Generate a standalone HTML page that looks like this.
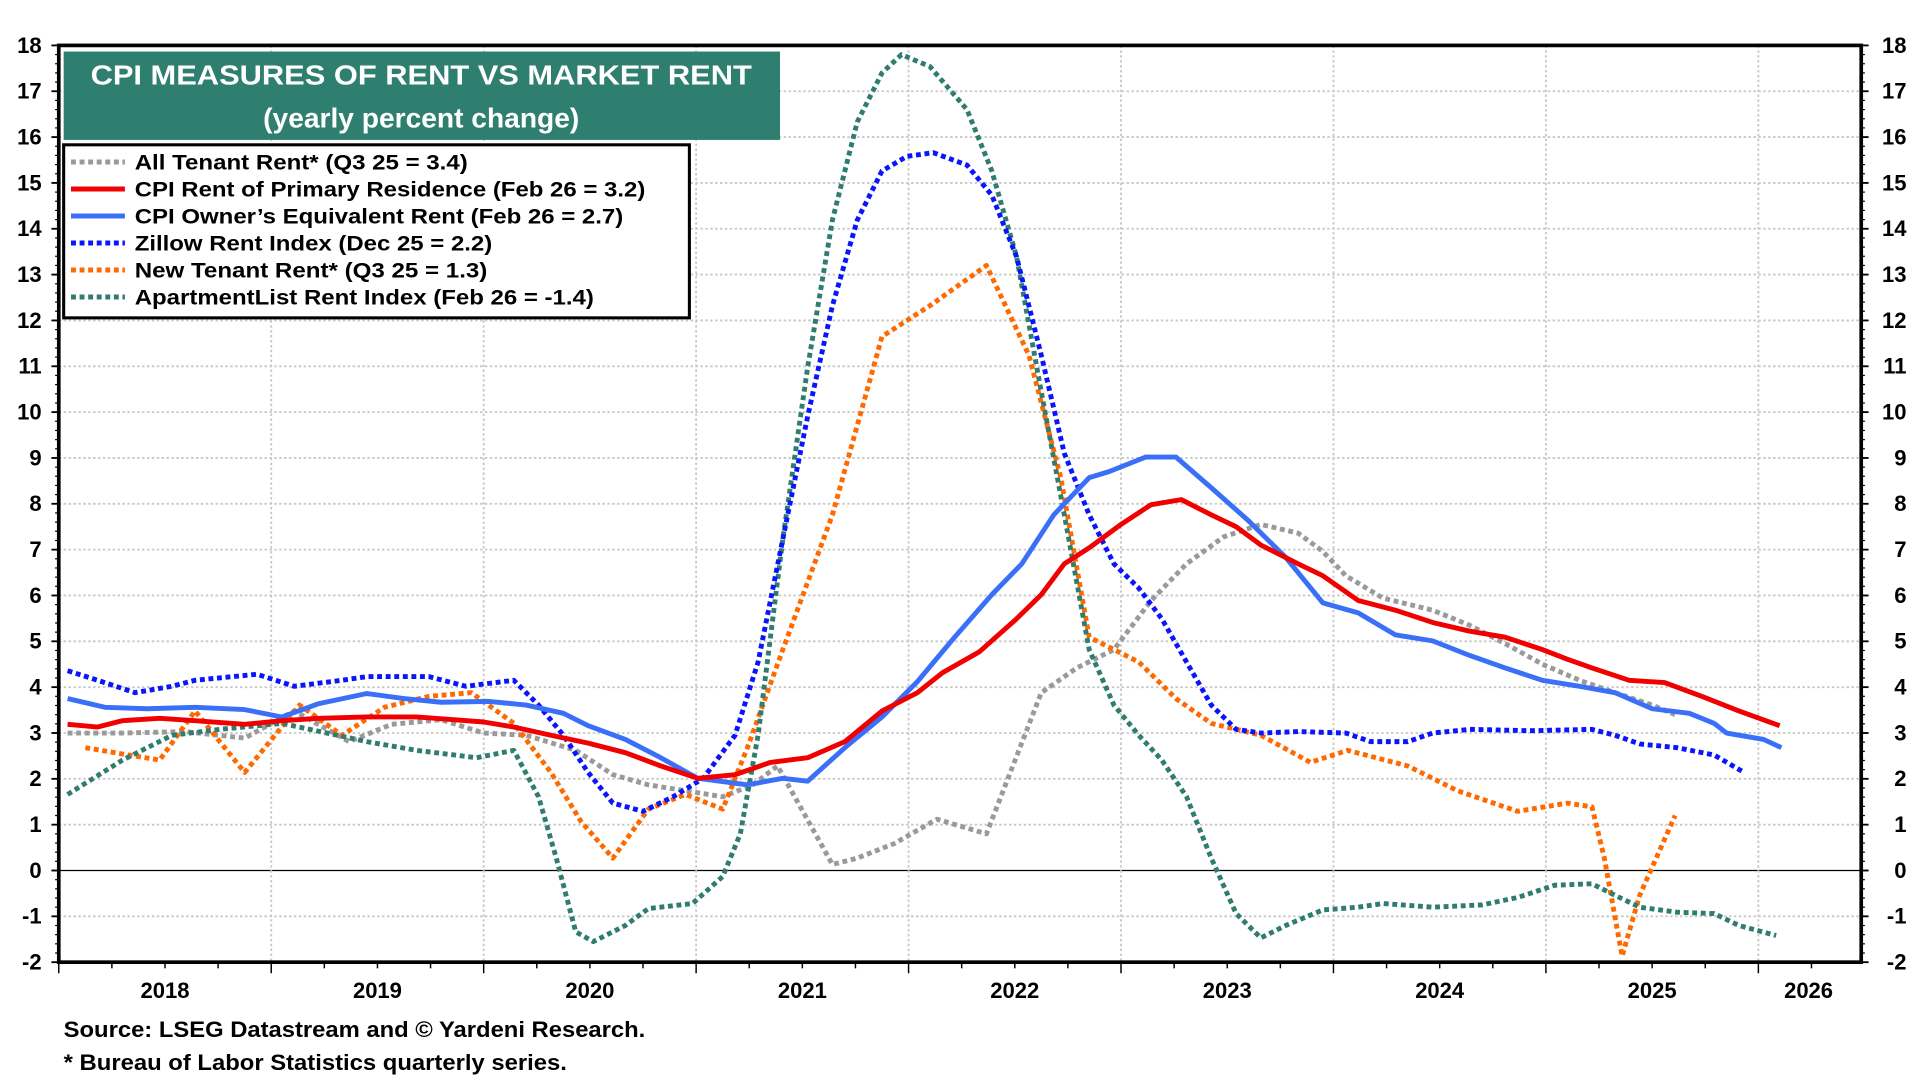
<!DOCTYPE html>
<html><head><meta charset="utf-8"><style>
html,body{margin:0;padding:0;background:#fff;}
svg{display:block;font-family:"Liberation Sans",Arial,sans-serif;font-weight:bold;}
</style></head><body>
<svg id="chart" width="1920" height="1080" viewBox="0 0 1568 880" preserveAspectRatio="none" xmlns="http://www.w3.org/2000/svg">
<g id="grid"></g>
<g id="axes"></g>
<g id="series"></g>
<rect x="48" y="37" width="1472" height="747" fill="none" stroke="#000" stroke-width="3"/>
<g>
<rect x="52" y="42" width="585" height="72" fill="#2f7f71"/>
<text x="344" y="69" text-anchor="middle" font-size="23" fill="#fff" textLength="540" lengthAdjust="spacingAndGlyphs">CPI MEASURES OF RENT VS MARKET RENT</text>
<text x="344" y="104" text-anchor="middle" font-size="23" fill="#fff">(yearly percent change)</text>
</g>
<g id="legend">
<rect x="52" y="118" width="511" height="141" fill="#fff" stroke="#000" stroke-width="2.5"/>
</g>
<text x="52" y="845" font-size="18" textLength="475" lengthAdjust="spacingAndGlyphs">Source: LSEG Datastream and © Yardeni Research.</text>
<text x="52" y="872" font-size="18" textLength="411" lengthAdjust="spacingAndGlyphs">* Bureau of Labor Statistics quarterly series.</text>
</svg>
<script>
// months since Jan 2018, yearly % change
const rentMonths=[0.5,2.2,3.6,5.7,7.7,10.5,12.6,14.7,17.4,20.2,22.3,24,25.7,27.8,29.9,32,34,36.1,38.2,40.2,42.3,44.4,46.5,48.5,49.9,52,54.1,55.5,56.8,58.2,60,61.7,63.4,65.1,66.5,67.9,70,71.4,73.4,75.5,77.6,79.7,81.7,83.8,85.2,86.6,88.7,90.7,92.8,94.9,97.2];
const rentValues=[3.19,3.13,3.27,3.32,3.27,3.19,3.27,3.32,3.35,3.35,3.29,3.24,3.13,2.95,2.78,2.57,2.28,2.01,2.09,2.36,2.46,2.81,3.48,3.88,4.31,4.77,5.49,6.02,6.69,7.04,7.55,7.98,8.09,7.76,7.5,7.1,6.69,6.43,5.89,5.68,5.41,5.22,5.09,4.82,4.61,4.42,4.15,4.1,3.8,3.48,3.16];
const oerMonths=[0.5,2.6,5,7.7,10.5,12.6,14.7,17.4,19.5,21.6,24.3,26.4,28.5,29.9,32,34,36.1,38.9,40.9,42.3,44.4,46.5,48.5,50.6,52.7,54.4,56.2,58.2,59.3,61.4,63.1,65.1,67.2,69.3,71.4,73.4,75.5,77.6,79.7,81.7,83.8,85.9,87.9,90,92.1,93.5,94.2,96.3,97.3];
const oerValues=[3.75,3.56,3.53,3.56,3.51,3.35,3.64,3.86,3.75,3.67,3.69,3.61,3.43,3.16,2.86,2.46,2.01,1.87,2.01,1.95,2.68,3.35,4.12,5.09,6.02,6.69,7.76,8.57,8.7,9.02,9.02,8.35,7.63,6.83,5.84,5.62,5.14,5.01,4.69,4.42,4.15,4.02,3.88,3.53,3.43,3.21,3.0,2.86,2.68];
const zillowMonths=[0.5,2.2,4.3,6.4,7.7,11.2,13.3,16,17.4,20.9,23,25.7,27.1,28.5,29.9,31.3,33,34.7,36.4,38.2,39.5,40.9,42.3,43.7,45.1,46.5,47.9,49.4,51.3,52.7,54.1,55.5,56.8,58.2,59.6,61,62.3,63.7,65.1,66.5,67.9,70,72.7,74.1,76.2,77.6,79.7,83.1,86.6,87.9,89.3,91.4,93.5,95.2];
const zillowValues=[4.36,4.15,3.88,4.02,4.15,4.28,4.02,4.15,4.23,4.23,4.02,4.15,3.61,2.95,2.14,1.47,1.29,1.61,2.01,2.95,4.55,7.23,9.91,12.32,14.19,15.26,15.58,15.66,15.39,14.73,13.39,11.24,9.1,7.76,6.69,6.16,5.49,4.55,3.61,3.08,3.0,3.03,3.0,2.81,2.81,3.0,3.08,3.05,3.08,2.95,2.76,2.68,2.52,2.14];
const aptMonths=[0.5,3.6,6.4,9.1,12.6,17.4,20.2,23.6,25.7,27.1,28.1,29.2,30.2,32,33.3,35.8,37.5,38.5,39.5,40.9,42.3,43.7,45.1,46.5,47.6,49.2,51.3,52.7,54.1,55.5,56.8,58.2,59.6,61,62.3,63.7,65.1,66.5,67.9,69.3,71.4,73.4,74.8,77.6,80.4,82.4,84.5,86.6,87.9,89.3,91.4,93.5,94.9,97];
const aptValues=[1.66,2.41,2.95,3.08,3.21,2.81,2.62,2.46,2.62,1.61,0.27,-1.34,-1.55,-1.2,-0.83,-0.72,-0.13,0.8,2.95,7.23,10.98,14.19,16.33,17.4,17.8,17.54,16.6,15.26,13.39,10.44,7.76,4.82,3.61,2.95,2.41,1.61,0.27,-0.94,-1.47,-1.2,-0.86,-0.8,-0.72,-0.8,-0.75,-0.59,-0.32,-0.29,-0.54,-0.8,-0.91,-0.94,-1.2,-1.42];
const allTenantMonths=[0.5,3.6,7.1,10.5,13.3,16.4,18.8,21.6,24,26.4,29.2,31.3,33.3,35.4,37.5,39.2,40.6,43.7,45.1,47.2,49.6,52.4,55.5,57.5,59.6,61.7,63.7,65.8,67.9,70,71.4,72.7,74.8,77.6,79.7,81.7,83.8,85.9,87.9,90,91.3];
const allTenantValues=[3.0,3.0,3.03,2.89,3.48,2.81,3.19,3.29,3.0,2.95,2.62,2.09,1.87,1.74,1.61,1.87,2.28,0.13,0.27,0.59,1.12,0.8,3.88,4.42,4.82,5.89,6.69,7.28,7.55,7.36,6.96,6.43,5.94,5.68,5.35,4.95,4.5,4.15,3.88,3.61,3.4];
const newTenantMonths=[1.5,3.6,5.7,7.7,10.5,13.6,16,18.4,20.9,23.3,25.7,27.8,29.5,31.3,33.3,35.4,37.5,38.9,40.9,43.7,46.5,49.2,52.4,54.8,56.6,58.2,61,63.1,65.1,67.9,70.7,72.8,76.2,79,82.4,85.2,86.6,87.3,88.3,89.3,91.3];
const newTenantValues=[2.68,2.54,2.41,3.48,2.14,3.61,2.95,3.56,3.8,3.88,3.21,2.14,1.07,0.27,1.34,1.66,1.34,2.68,4.82,7.76,11.65,12.32,13.2,11.24,8.57,5.09,4.55,3.75,3.21,2.95,2.36,2.62,2.28,1.74,1.29,1.47,1.39,0.27,-1.87,-0.54,1.2];
const yTicks=[-2,-1,0,1,2,3,4,5,6,7,8,9,10,11,12,13,14,15,16,17,18];
const yearLabels=["2018","2019","2020","2021","2022","2023","2024","2025","2026"];

const NS="http://www.w3.org/2000/svg";
const L=48,R=1520,T=37,B=784,MW=173.5/12;
const xs=m=>L+m*MW;
const ys=v=>B-(v+2)*(B-T)/20;
function mk(tag,attrs,parent){const e=document.createElementNS(NS,tag);for(const k in attrs)e.setAttribute(k,attrs[k]);parent.appendChild(e);return e;}
const grid=document.getElementById('grid'),axes=document.getElementById('axes'),ser=document.getElementById('series'),leg=document.getElementById('legend');

yTicks.forEach(v=>{
  const y=ys(v);
  if(v>-2&&v<18&&v!==0){const g=mk('line',{x1:L,x2:R,y1:y,y2:y,stroke:'#c8c8c8','stroke-width':1.5,'stroke-dasharray':'2 2'},grid);
    
    }
  const t1=mk('text',{x:34,y:y+6,'text-anchor':'end','font-size':18},axes);t1.textContent=v;
  
  
  const t2=mk('text',{x:1557,y:y+6,'text-anchor':'end','font-size':18},axes);t2.textContent=v;
  
  
  mk('line',{x1:L-6,x2:L,y1:y,y2:y,stroke:'#000','stroke-width':1.5},axes);
  mk('line',{x1:R,x2:R+6,y1:y,y2:y,stroke:'#000','stroke-width':1.5},axes);
  if(v<18)for(let k=1;k<5;k++){const yy=y-k*(B-T)/100;mk('line',{x1:L-3,x2:L,y1:yy,y2:yy,stroke:'#000','stroke-width':1},axes);mk('line',{x1:R,x2:R+3,y1:yy,y2:yy,stroke:'#000','stroke-width':1},axes);}
});
const zl=mk('line',{x1:L,x2:R,y1:ys(0),y2:ys(0),stroke:'#000','stroke-width':1},grid);


yearLabels.forEach((yr,i)=>{
  const x0=xs(i*12);
  if(i>0){const g=mk('line',{x1:x0,x2:x0,y1:T,y2:B,stroke:'#c8c8c8','stroke-width':1.5,'stroke-dasharray':'2 2'},grid);
    
    }
  mk('line',{x1:x0,x2:x0,y1:B,y2:B+9,stroke:'#000','stroke-width':1.2},axes);
  for(let q=1;q<4;q++){const xq=xs(i*12+q*3);if(xq<R)mk('line',{x1:xq,x2:xq,y1:B,y2:B+5,stroke:'#000','stroke-width':1.2},axes);}
  const t=mk('text',{x:Math.min(xs(i*12+6),1477),y:813,'text-anchor':'middle','font-size':18},axes);t.textContent=yr;
  
  
});

const series=[
 {name:'all-tenant-rent-line',m:allTenantMonths,v:allTenantValues,c:'#9a9a9a',d:'4 3',w:4,label:'All Tenant Rent* (Q3 25 = 3.4)',tl:272},
 {name:'new-tenant-rent-line',m:newTenantMonths,v:newTenantValues,c:'#ff6a00',d:'4 3',w:4,label:'New Tenant Rent* (Q3 25 = 1.3)',tl:288},
 {name:'apartmentlist-line',m:aptMonths,v:aptValues,c:'#2e7d6e',d:'4 3',w:4,label:'ApartmentList Rent Index (Feb 26 = -1.4)',tl:375},
 {name:'zillow-rent-line',m:zillowMonths,v:zillowValues,c:'#0a14ff',d:'4 3',w:4,label:'Zillow Rent Index (Dec 25 = 2.2)',tl:292},
 {name:'cpi-oer-line',m:oerMonths,v:oerValues,c:'#3a6ff7',d:null,w:4,label:'CPI Owner\u2019s Equivalent Rent (Feb 26 = 2.7)',tl:399},
 {name:'cpi-rent-line',m:rentMonths,v:rentValues,c:'#f00000',d:null,w:4,label:'CPI Rent of Primary Residence (Feb 26 = 3.2)',tl:417}
];
series.forEach(s=>{
  const d=s.m.map((m,i)=>(i?'L':'M')+xs(m).toFixed(1)+','+ys(s.v[i]).toFixed(1)).join(' ');
  const p=mk('path',{d:d,fill:'none',stroke:s.c,'stroke-width':s.w,'stroke-linejoin':'round'},ser);
  if(s.d)p.setAttribute('stroke-dasharray',s.d);
  
  
});
const order=[0,5,4,3,1,2];
order.forEach((si,r)=>{
  const s=series[si],y=132+r*22;
  const ln=mk('line',{x1:58,x2:102,y1:y,y2:y,stroke:s.c,'stroke-width':4},leg);
  if(s.d)ln.setAttribute('stroke-dasharray',s.d);
  
  
  const t=mk('text',{x:110,y:y+6,'font-size':17.5,textLength:s.tl,lengthAdjust:'spacingAndGlyphs'},leg);t.textContent=s.label;
  
  
});
</script>
</body></html>
